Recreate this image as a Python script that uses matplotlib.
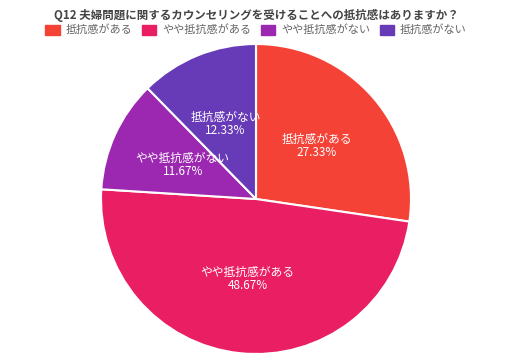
import matplotlib
matplotlib.use("Agg")
import matplotlib.pyplot as plt
from matplotlib.patches import Patch
import numpy as np

plt.rcParams['font.family'] = ['Noto Sans CJK JP', 'DejaVu Sans']

title = "Q12 夫婦問題に関するカウンセリングを受けることへの抵抗感はありますか？"
categories = ["抵抗感がある", "やや抵抗感がある", "やや抵抗感がない", "抵抗感がない"]
values = [27.33, 48.67, 11.67, 12.33]
colors = ["#F44336", "#E91E63", "#9C27B0", "#673AB7"]

fig = plt.figure(figsize=(5.12, 3.56), dpi=100)
# pie centred at (256, 199) px, radius ~155 px
ax = fig.add_axes([(256 - 155) / 512, 1 - (199 + 155) / 356, 310 / 512, 310 / 356])
wedges, _ = ax.pie(values, colors=colors, startangle=90, counterclock=False,
                   wedgeprops=dict(edgecolor="white", linewidth=1.5))
ax.set_xlim(-1, 1)
ax.set_ylim(-1, 1)
ax.set_aspect("equal")

# labels at roughly half the radius
for w, cat, v in zip(wedges, categories, values):
    mid = np.deg2rad((w.theta1 + w.theta2) / 2)
    r = 0.52
    ax.text(r * np.cos(mid), r * np.sin(mid), f"{cat}\n{v:.2f}%",
            ha="center", va="center", color="white", fontsize=8.5, linespacing=1.0)

fig.text(0.5, 1 - 15 / 356, title, ha="center", va="center",
         fontsize=8.3, fontweight="bold", color="#444444")

handles = [Patch(facecolor=c, edgecolor=c) for c in colors]
fig.legend(handles, categories, loc="center", bbox_to_anchor=(0.5, 1 - 30 / 356),
           ncol=4, frameon=False, fontsize=8, labelcolor="#666666",
           handlelength=1.3, handleheight=1.0, columnspacing=0.9, handletextpad=0.5)

fig.savefig("out.png", dpi=100)
